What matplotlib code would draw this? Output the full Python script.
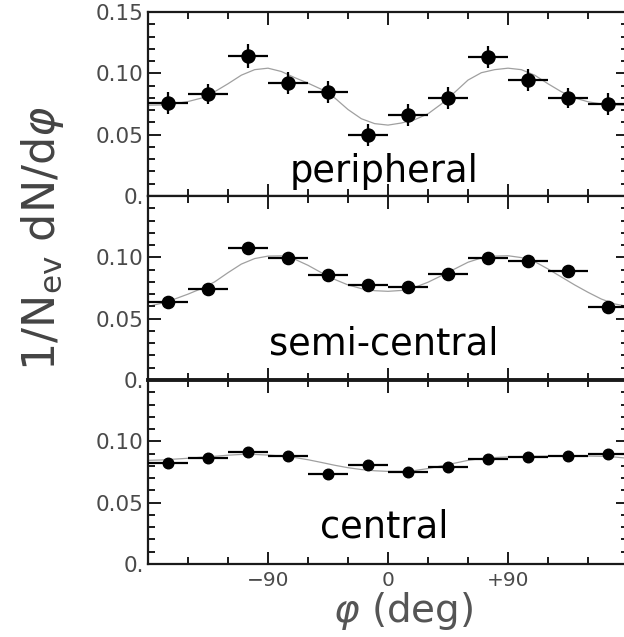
import matplotlib
matplotlib.use("Agg")
import matplotlib.pyplot as plt
from matplotlib.ticker import FixedLocator, MultipleLocator, FuncFormatter

# bin centres (deg) and half bin width
phi = [-165, -135, -105, -75, -45, -15, 15, 45, 75, 105, 135, 165]
bin_half = 15

# measured 1/N dN/dphi
peripheral = [0.0761, 0.0829, 0.1141, 0.0921, 0.0845, 0.0497,
              0.0660, 0.0802, 0.1133, 0.0943, 0.0799, 0.0747]
peripheral_err = [0.009, 0.008, 0.010, 0.009, 0.009, 0.009,
                  0.009, 0.009, 0.009, 0.009, 0.008, 0.009]
semicentral = [0.0638, 0.0745, 0.1073, 0.0992, 0.0856, 0.0774,
               0.0761, 0.0864, 0.0992, 0.0973, 0.0889, 0.0598]
semicentral_err = [0.003] * 12
central = [0.0821, 0.0864, 0.0916, 0.0878, 0.0736, 0.0804,
           0.0750, 0.0788, 0.0859, 0.0875, 0.0883, 0.0897]
central_err = [0.002] * 12

# fit curves every 10 deg
fit_phi = list(range(-180, 181, 10))
peripheral_fit = [0.0740, 0.0742, 0.0752, 0.0770, 0.0798, 0.0850, 0.0915, 0.0985, 0.1030, 0.1042,
                  0.1015, 0.0965, 0.0920, 0.0870, 0.0800, 0.0705, 0.0630, 0.0590, 0.0578,
                  0.0595, 0.0622, 0.0670, 0.0750, 0.0845, 0.0945, 0.1005, 0.1030, 0.1042,
                  0.1030, 0.0985, 0.0915, 0.0850, 0.0800, 0.0768, 0.0750, 0.0742, 0.0740]
semicentral_fit = [0.0600, 0.0625, 0.0660, 0.0700, 0.0745, 0.0800, 0.0875, 0.0945, 0.0990, 0.1010,
                   0.1012, 0.0985, 0.0935, 0.0875, 0.0820, 0.0775, 0.0745, 0.0728, 0.0723,
                   0.0730, 0.0755, 0.0797, 0.0850, 0.0905, 0.0960, 0.0995, 0.1010, 0.1013,
                   0.0998, 0.0965, 0.0905, 0.0840, 0.0775, 0.0715, 0.0660, 0.0620, 0.0600]
central_fit = [0.0845, 0.0848, 0.0855, 0.0862, 0.0870, 0.0878, 0.0887, 0.0893, 0.0893, 0.0888,
               0.0880, 0.0868, 0.0850, 0.0828, 0.0805, 0.0785, 0.0770, 0.0760, 0.0755,
               0.0755, 0.0762, 0.0778, 0.0800, 0.0822, 0.0845, 0.0860, 0.0868, 0.0873,
               0.0876, 0.0878, 0.0879, 0.0880, 0.0881, 0.0880, 0.0878, 0.0872, 0.0862]

panels = [
    ("peripheral", peripheral, peripheral_err, peripheral_fit, 9.4, 0.0117),
    ("semi-central", semicentral, semicentral_err, semicentral_fit, 8.8, 0.021),
    ("central", central, central_err, central_fit, 7.6, 0.022),
]

tick_grey = "#4a4a4a"


def ylab(v, pos):
    if abs(v) < 1e-9:
        return "0."
    return f"{v:.2f}"


fig = plt.figure(figsize=(6.24, 6.37), dpi=100)

for i, (name, y, yerr, fit, ms, text_y) in enumerate(panels):
    top_px = 12 + 184 * i
    ax = fig.add_axes([148 / 624, (637 - top_px - 184) / 637, 480 / 624, 184 / 637])
    ax.plot(fit_phi, fit, color="#a0a0a0", lw=0.9, zorder=1)
    ax.errorbar(phi, y, xerr=bin_half, yerr=yerr, fmt="o", color="black",
                ms=ms, elinewidth=1.6, capsize=0, zorder=3)
    ax.text(-3, text_y, name, ha="center", va="baseline", fontsize=26.5, color="black")

    ax.set_xlim(-180, 180)
    ax.set_ylim(0, 0.15)
    ax.xaxis.set_major_locator(FixedLocator([-90, 0, 90]))
    ax.xaxis.set_minor_locator(MultipleLocator(30))
    if i == 0:
        ax.yaxis.set_major_locator(FixedLocator([0, 0.05, 0.10, 0.15]))
    else:
        ax.yaxis.set_major_locator(FixedLocator([0, 0.05, 0.10]))
    ax.yaxis.set_minor_locator(MultipleLocator(0.01))
    ax.yaxis.set_major_formatter(FuncFormatter(ylab))

    ax.tick_params(which="both", direction="in", top=True, right=True,
                   width=1.4, color="#1a1a1a")
    ax.tick_params(which="major", length=9)
    ax.tick_params(which="minor", length=5)
    ax.tick_params(axis="y", labelsize=15.5, labelcolor=tick_grey, pad=3)
    ax.tick_params(axis="x", labelsize=14.5, labelcolor=tick_grey, pad=5)

    for s in ax.spines.values():
        s.set_linewidth(1.6)
        s.set_color("#1a1a1a")
    if i == 2:
        ax.spines["top"].set_linewidth(2.8)
        ax.set_xticklabels(["\u221290", "0", "+90"])
    else:
        ax.set_xticklabels([])

fig.text(403 / 624, 1 - 611 / 637, r"$\varphi$ (deg)", ha="center", va="center",
         fontsize=28, color="#555555")
fig.text(42 / 624, 1 - 238 / 637, r"1/N$_{\rm ev}$ dN/d$\varphi$", rotation=90,
         ha="center", va="center", fontsize=32, color="#444444")

fig.savefig("out.png", dpi=100)
